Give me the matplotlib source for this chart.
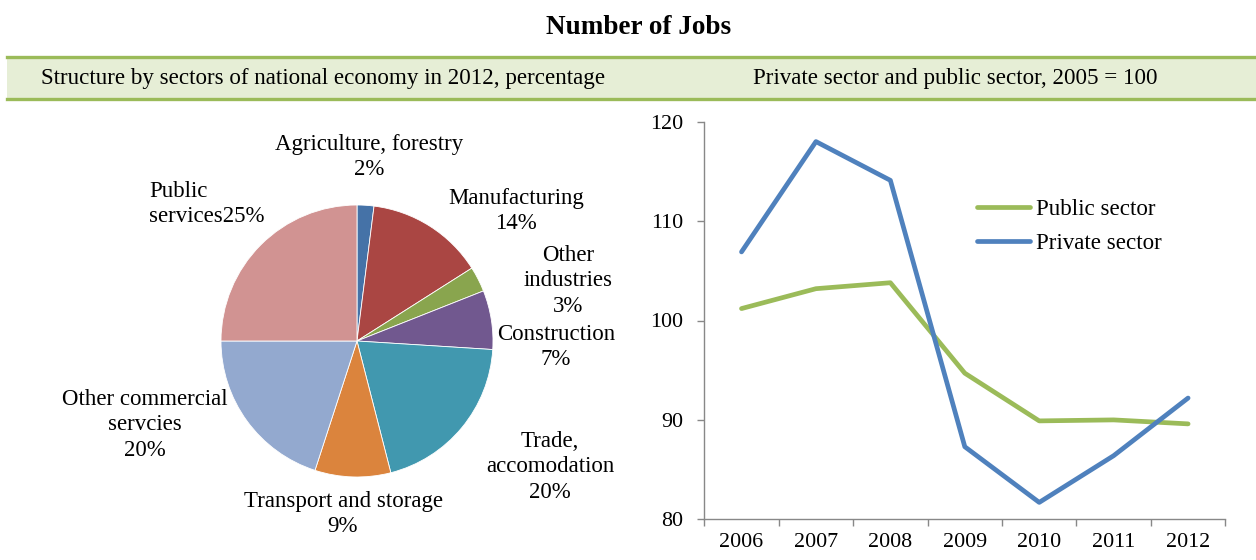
import matplotlib
matplotlib.use("Agg")
import matplotlib.pyplot as plt
from matplotlib.patches import Rectangle
from matplotlib.lines import Line2D

plt.rcParams['font.family'] = ['Liberation Serif', 'DejaVu Serif']

# ---- data -------------------------------------------------------------
sectors = ["Agriculture, forestry", "Manufacturing", "Other\nindustries",
           "Construction", "Trade,\naccomodation", "Transport and storage",
           "Other commercial\nservcies", "Public\nservices"]
shares = [2, 14, 3, 7, 20, 9, 20, 25]
sector_colors = ["#4572A7", "#AA4643", "#89A54E", "#71588F",
                 "#4198AF", "#DB843D", "#93A9CF", "#D19392"]

years = ["2006", "2007", "2008", "2009", "2010", "2011", "2012"]
public_sector = [101.2, 103.2, 103.8, 94.7, 89.9, 90.0, 89.6]
private_sector = [106.9, 118.0, 114.1, 87.3, 81.7, 86.4, 92.2]

W, H = 1256, 560
fig = plt.figure(figsize=(W / 100, H / 100), dpi=100)


def fx(px):
    return px / W


def fy(py):
    return 1 - py / H


# ---- title and section headers -----------------------------------------
fig.text(fx(639), fy(27), "Number of Jobs", ha="center", va="center",
         fontsize=19.5, fontweight="bold")

band_green = "#9BBB59"
fig.patches.append(Rectangle((fx(7), fy(98.5)), fx(W) - fx(7), fy(57) - fy(98.5),
                             transform=fig.transFigure, facecolor="#E6EED6",
                             edgecolor="none", zorder=0))
for yy in (57, 98.5):
    fig.lines.append(Line2D([fx(7), 1.0], [fy(yy), fy(yy)], transform=fig.transFigure,
                            color=band_green, linewidth=2.4))

fig.text(fx(323), fy(79), "Structure by sectors of national economy in 2012, percentage",
         ha="center", va="center", fontsize=16.6)
fig.text(fx(955), fy(79), "Private sector and public sector, 2005 = 100",
         ha="center", va="center", fontsize=16.6)

# ---- pie chart -------------------------------------------------------------
cx, cy, r = 357, 341, 136
ax_pie = fig.add_axes([fx(cx - r), fy(cy + r), fx(2 * r), (2 * r) / H])
ax_pie.pie(shares, colors=sector_colors, startangle=90, counterclock=False,
           radius=1, wedgeprops=dict(edgecolor="white", linewidth=0.6))
ax_pie.set_xlim(-1, 1)
ax_pie.set_ylim(-1, 1)
ax_pie.axis("off")

# label anchor points (pixel centres) and line separators
label_pos = [(369, 157, "center"), (516, 211, "center"), (568, 281, "center"),
             (556, 347, "center"), (550, 467, "center"), (343, 514, "center"),
             (145, 425, "center"), (149, 204, "left")]
label_sep = ["\n", "\n", "\n", "\n", "\n", "\n", "\n", ""]
for name, val, sep, (px, py, ha) in zip(sectors, shares, label_sep, label_pos):
    ax_pie.text((px - cx) / r, (cy - py) / r, f"{name}{sep}{val}%",
                ha=ha, va="center", multialignment="center" if ha == "center" else "left",
                fontsize=16.5, linespacing=1.3, clip_on=False)

# ---- line chart --------------------------------------------------------
ax = fig.add_axes([fx(704.3), fy(519.3), fx(1225.3) - fx(704.3), fy(121.7) - fy(519.3)])
x = list(range(len(years)))
ax.plot(x, public_sector, color="#9BBB59", linewidth=3.4, label="Public sector",
        solid_capstyle="round")
ax.plot(x, private_sector, color="#4F81BD", linewidth=3.4, label="Private sector",
        solid_capstyle="round")

ax.set_xlim(-0.5, len(years) - 0.5)
ax.set_ylim(80, 120)
ax.set_yticks([80, 90, 100, 110, 120])
ax.set_xticks(x)
ax.set_xticklabels(years)
ax.set_xticks([i - 0.5 for i in range(len(years) + 1)], minor=True)
ax.tick_params(axis="x", which="major", length=0, pad=10, labelsize=15.8)
ax.tick_params(axis="x", which="minor", length=5, color="#888888", width=1)
ax.tick_params(axis="y", which="major", length=5, color="#888888", width=1,
               pad=10, labelsize=15.8)
for side in ("top", "right"):
    ax.spines[side].set_visible(False)
for side in ("left", "bottom"):
    ax.spines[side].set_color("#888888")
    ax.spines[side].set_linewidth(1)

ax.legend(loc="upper left", bbox_to_anchor=(fx(977), fy(199)),
          bbox_transform=fig.transFigure, frameon=False, fontsize=16.6,
          handlelength=2.3, handletextpad=0.25, labelspacing=0.55,
          borderpad=0, borderaxespad=0)

fig.savefig("out.png", dpi=100)
